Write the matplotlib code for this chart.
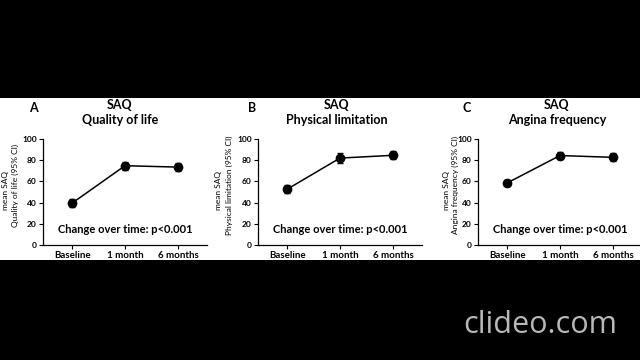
import matplotlib
matplotlib.use("Agg")
import matplotlib.pyplot as plt
from matplotlib.patches import Rectangle

plt.rcParams.update({'font.family': ['Lato', 'DejaVu Sans']})

# data
timepoints = ["Baseline", "1 month", "6 months"]
letters = ["A", "B", "C"]
titles = ["Quality of life", "Physical limitation", "Angina frequency"]
ylabels = ["Quality of life (95% CI)", "Physical limitation (95% CI)", "Angina frequency (95% CI)"]
means_qol = [39.5, 74.8, 73.5]
lo_qol = [36.0, 71.2, 69.8]
hi_qol = [43.0, 78.2, 77.0]
means_pl = [52.6, 82.0, 84.6]
lo_pl = [49.0, 77.8, 80.8]
hi_pl = [56.4, 86.4, 88.6]
means_af = [58.5, 84.4, 82.7]
lo_af = [55.4, 81.4, 79.3]
hi_af = [61.6, 87.6, 86.4]
yticks = [0, 20, 40, 60, 80, 100]
ptext = "Change over time: p<0.001"

means = [means_qol, means_pl, means_af]
lows = [lo_qol, lo_pl, lo_af]
highs = [hi_qol, hi_pl, hi_af]

W, H = 640, 360
fig = plt.figure(figsize=(6.4, 3.6), dpi=100, facecolor="black")
# white band of the video frame
fig.patches.append(Rectangle((0, 1 - 260 / H), 1, (260 - 98) / H,
                             transform=fig.transFigure, facecolor="white",
                             edgecolor="none", zorder=-5))

lefts = [43, 258, 478]
title_x = [120, 337, 557]
letter_x = [33, 252, 467]
ylab1_x = [6, 219, 446]
ylab2_x = [15, 229, 455]
ax_w = 164
for i in range(3):
    ax = fig.add_axes([lefts[i] / W, 1 - 245 / H, ax_w / W, 106 / H])
    ax.set_facecolor("none")
    x = list(range(len(timepoints)))
    m = means[i]
    err = [[m[j] - lows[i][j] for j in x], [highs[i][j] - m[j] for j in x]]
    ax.errorbar(x, m, yerr=err, color="black", marker="o", markersize=6,
                linewidth=1.1, elinewidth=1.0, capsize=2.5, capthick=1.0)
    ax.set_xlim(-0.55, 2.55)
    ax.set_ylim(0, 100)
    ax.set_yticks(yticks)
    ax.set_xticks(x)
    ax.set_xticklabels(timepoints, fontsize=7, fontweight="bold")
    ax.tick_params(axis="y", labelsize=6, length=3, width=0.8, pad=1.5)
    ax.tick_params(axis="x", length=3, width=0.8, pad=1.5)
    for lab in ax.get_yticklabels():
        lab.set_fontweight("bold")
    ax.spines["top"].set_visible(False)
    ax.spines["right"].set_visible(False)
    ax.spines["left"].set_linewidth(0.9)
    ax.spines["bottom"].set_linewidth(0.9)
    ax.text(1, 15, ptext, ha="center", va="center", fontsize=8, fontweight="bold")

    fig.text(title_x[i] / W, 1 - 105 / H, "SAQ", ha="center", va="center",
             fontsize=9, fontweight="bold")
    fig.text(title_x[i] / W, 1 - 120 / H, titles[i], ha="center", va="center",
             fontsize=9, fontweight="bold")
    fig.text(letter_x[i] / W, 1 - 108 / H, letters[i], ha="center", va="center",
             fontsize=9, fontweight="bold")
    fig.text(ylab1_x[i] / W, 1 - 190 / H, "mean SAQ", ha="center",
             va="center", rotation=90, fontsize=6)
    fig.text(ylab2_x[i] / W, 1 - 185 / H, ylabels[i], ha="center",
             va="center", rotation=90, fontsize=6)

fig.text(540 / W, 1 - 325 / H, "clideo.com", ha="center", va="center",
         fontsize=22, color="#b8b8b8", family=["Open Sans", "DejaVu Sans"])

fig.savefig("out.png", dpi=100, facecolor="black")
